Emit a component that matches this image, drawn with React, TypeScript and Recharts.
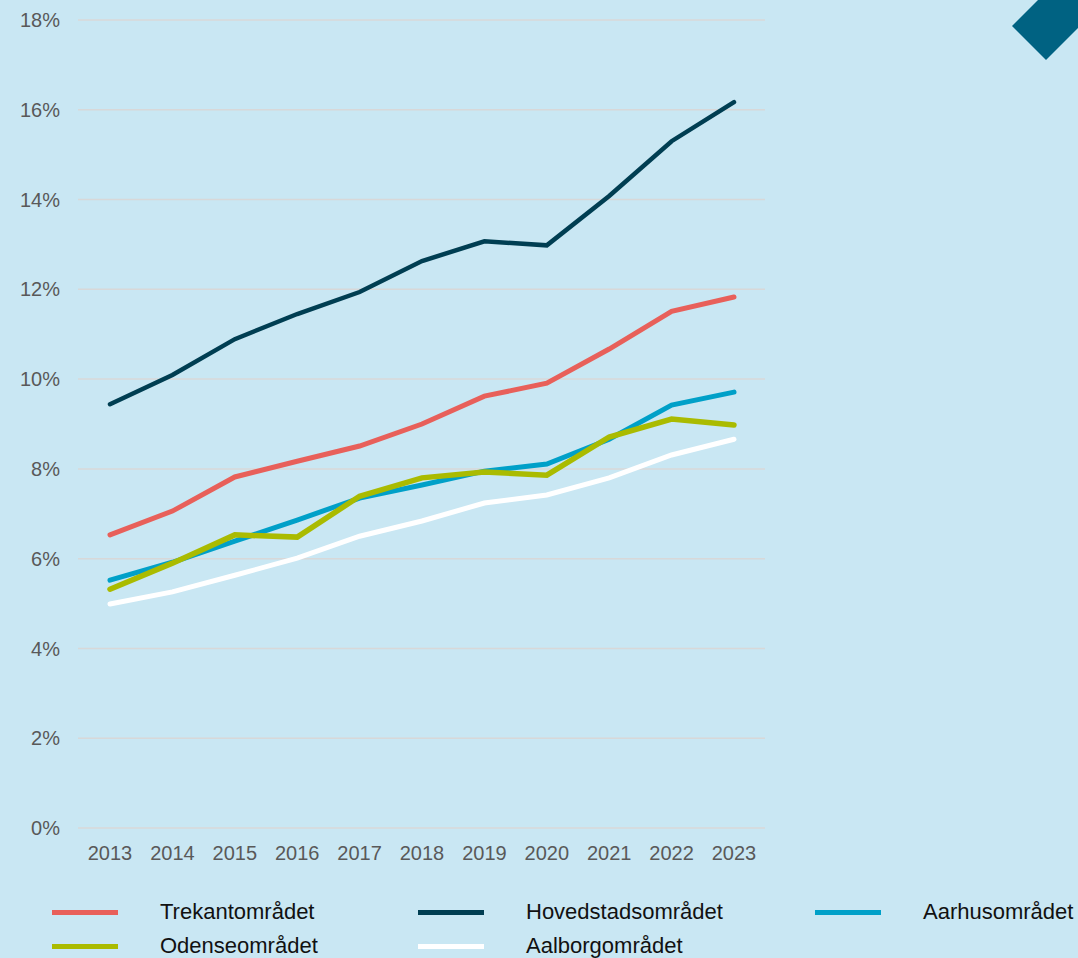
import { LineChart, Line, XAxis, YAxis, CartesianGrid } from "recharts";

const years = ["2013", "2014", "2015", "2016", "2017", "2018", "2019", "2020", "2021", "2022", "2023"];

const trekant = [6.53, 7.06, 7.82, 8.17, 8.51, 9.0, 9.62, 9.91, 10.67, 11.51, 11.83];
const hovedstad = [9.44, 10.09, 10.89, 11.45, 11.94, 12.63, 13.07, 12.98, 14.08, 15.3, 16.17];
const aarhus = [5.52, 5.92, 6.39, 6.86, 7.35, 7.64, 7.95, 8.11, 8.66, 9.42, 9.71];
const odense = [5.32, 5.9, 6.53, 6.48, 7.39, 7.8, 7.93, 7.86, 8.71, 9.11, 8.98];
const aalborg = [4.99, 5.26, 5.63, 6.01, 6.5, 6.84, 7.24, 7.42, 7.8, 8.31, 8.66];

const yTicks = [0, 2, 4, 6, 8, 10, 12, 14, 16, 18];

const series = [
  { key: "trekant", name: "Trekantområdet", color: "#E8605A", width: 5 },
  { key: "hovedstad", name: "Hovedstadsområdet", color: "#003E52", width: 4.5 },
  { key: "aarhus", name: "Aarhusområdet", color: "#00A0C8", width: 5 },
  { key: "odense", name: "Odenseområdet", color: "#AABB00", width: 5.5 },
  { key: "aalborg", name: "Aalborgområdet", color: "#FFFFFF", width: 5 },
];

// which series sits on top of which
const drawOrder = ["aalborg", "aarhus", "odense", "trekant", "hovedstad"];

const data = years.map((year, i) => ({
  year,
  trekant: trekant[i],
  hovedstad: hovedstad[i],
  aarhus: aarhus[i],
  odense: odense[i],
  aalborg: aalborg[i],
}));

// legend slots: [left of swatch, top centre]
const legendPos = [
  [52, 912],
  [418, 912],
  [815, 912],
  [52, 946],
  [418, 946],
];

const tickStyle = { fill: "#595959", fontSize: 20, fontFamily: "Liberation Sans, Arial, sans-serif" };

export default function App() {
  return (
    <div
      style={{
        position: "absolute",
        left: 0,
        top: 0,
        width: 1078,
        height: 958,
        background: "#C9E7F3",
        overflow: "hidden",
      }}
    >
      {/* corner decoration */}
      <svg width={1078} height={100} style={{ position: "absolute", left: 0, top: 0 }}>
        <polygon points="1012,26 1046,60 1146,-40 1112,-74" fill="#006282" />
      </svg>
      <LineChart
        width={1078}
        height={880}
        data={data}
        margin={{ top: 20, right: 313, bottom: 0, left: 0 }}
      >
        <CartesianGrid vertical={false} stroke="#D8D8D8" strokeWidth={1.5} />
        <XAxis
          dataKey="year"
          axisLine={false}
          tickLine={false}
          tick={tickStyle}
          tickMargin={12}
          height={52}
          padding={{ left: 32, right: 31 }}
          interval={0}
        />
        <YAxis
          width={78}
          domain={[0, 18]}
          ticks={yTicks}
          tickFormatter={(v: number) => `${v}%`}
          axisLine={false}
          tickLine={false}
          tick={tickStyle}
          tickMargin={12}
          interval={0}
        />
        {drawOrder.map((k) => {
          const s = series.find((x) => x.key === k)!;
          return (
            <Line
              key={s.key}
              dataKey={s.key}
              name={s.name}
              stroke={s.color}
              strokeWidth={s.width}
              strokeLinecap="round"
              dot={false}
              activeDot={false}
              type="linear"
              isAnimationActive={false}
            />
          );
        })}
      </LineChart>
      {series.map((s, i) => (
        <div
          key={s.key}
          style={{
            position: "absolute",
            left: legendPos[i][0],
            top: legendPos[i][1] - 16,
            height: 32,
            display: "flex",
            alignItems: "center",
          }}
        >
          <div style={{ width: 66, height: 5, background: s.color }} />
          <span
            style={{
              marginLeft: 42,
              fontSize: 22,
              color: "#111111",
              fontFamily: "Liberation Sans, Arial, sans-serif",
              whiteSpace: "nowrap",
            }}
          >
            {s.name}
          </span>
        </div>
      ))}
    </div>
  );
}
